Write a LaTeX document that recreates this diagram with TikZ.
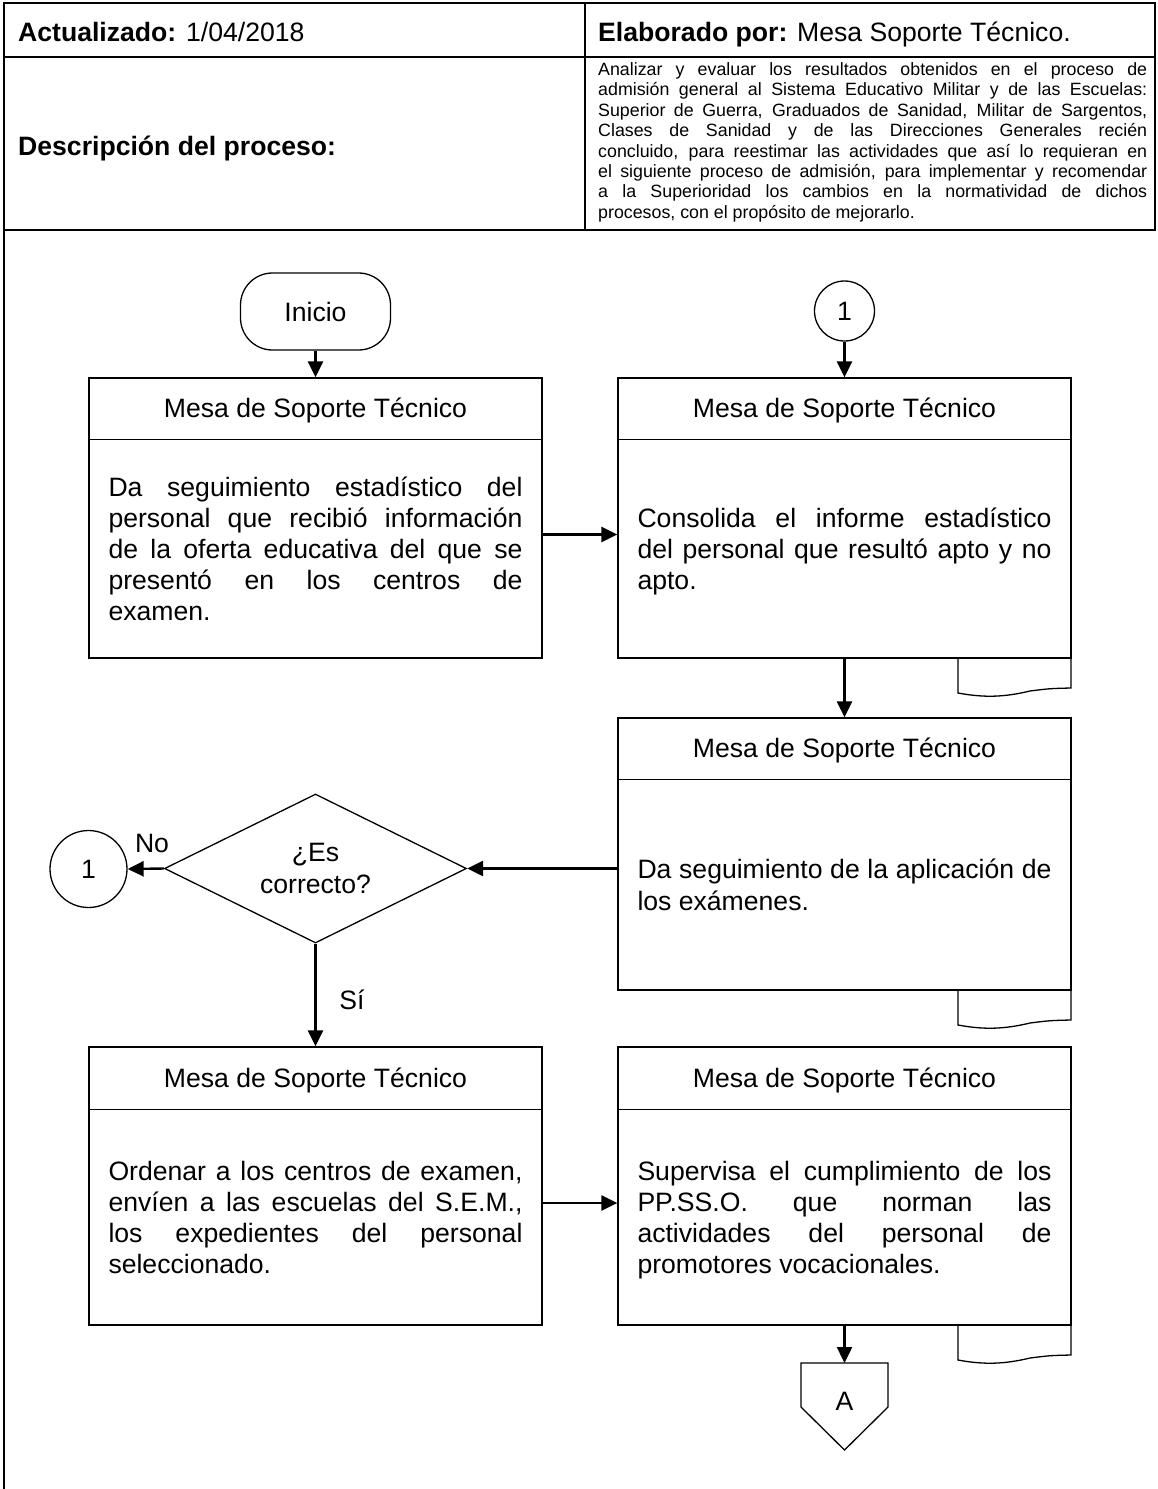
\documentclass[tikz,border=0pt]{standalone}
\usepackage{fontspec}
\setmainfont{Liberation Sans}
\usetikzlibrary{shapes.geometric,arrows.meta,calc}
\newcommand\bodyfs{\fontsize{26.6}{31.2}\selectfont}
\newcommand\descfs{\fontsize{17.8}{20.4}\selectfont}
\newcommand\jline[2][414pt]{\makebox[#1][s]{#2}}
\begin{document}
\begin{tikzpicture}[x=1pt,y=-1pt,
  every node/.style={inner sep=0pt, font=\bodyfs},
  tableline/.style={line width=1.8pt},
  shapeline/.style={line width=1.3pt},
  procbox/.style={draw, line width=1.3pt, minimum width=453pt, minimum height=#1},
  arr/.style={line width=2.4pt, -{Triangle[length=16pt,width=15pt]}},
  bodytext/.style={anchor=center, align=left},
  title/.style={anchor=base}]
\useasboundingbox (0,0) rectangle (1157,1489);
% header table
\draw[tableline] (4,1489) -- (4,3) -- (1155,3) -- (1155,230) -- (4,230);
\draw[tableline] (4,57) -- (1155,57);
\draw[tableline] (585,3) -- (585,230);
\node[anchor=base west] (upd) at (18,41.3) {\textbf{Actualizado:} 1/04/2018};
\node[anchor=base west] (elab) at (598,41.3) {\textbf{Elaborado por:} Mesa Soporte Técnico.};
\node[anchor=base west] (dlab) at (18,155.3) {\textbf{Descripción del proceso:}};
\node[anchor=north west, align=left, font=\descfs] (desc) at (598,61.1) {\strut\jline[549pt]{Analizar y evaluar los resultados obtenidos en el proceso de}\\
\jline[549pt]{admisión general al Sistema Educativo Militar y de las Escuelas:}\\
\jline[549pt]{Superior de Guerra, Graduados de Sanidad, Militar de Sargentos,}\\
\jline[549pt]{Clases de Sanidad y de las Direcciones Generales recién}\\
\jline[549pt]{concluido, para reestimar las actividades que así lo requieran en}\\
\jline[549pt]{el siguiente proceso de admisión, para implementar y recomendar}\\
\jline[549pt]{a la Superioridad los cambios en la normatividad de dichos}\\
procesos, con el propósito de mejorarlo.};
% flow shapes
\node[draw, shapeline, rounded corners=32pt, minimum width=150pt, minimum height=77pt] (ini) at (315.5,311.5) {Inicio};
\node[draw, shapeline, circle, minimum size=60pt] (c1) at (844.5,311) {1};
\node[procbox=280pt] (b1) at (315.5,518) {};
\node[procbox=280pt] (b2) at (844.5,518) {};
\node[procbox=272pt] (b3) at (844.5,854) {};
\node[draw, shapeline, diamond, aspect=2.03, minimum width=302pt, minimum height=149pt, align=center] (d) at (315.5,868.5) {¿Es\\correcto?};
\node[draw, shapeline, circle, minimum size=77pt] (c2) at (88.5,869) {1};
\node[procbox=278pt] (b4) at (315.5,1186) {};
\node[procbox=278pt] (b5) at (844.5,1186) {};
% header lines in boxes
\foreach \b in {b1,b2,b3} \draw[shapeline] ($(\b.north west)+(0,62)$) -- ($(\b.north east)+(0,62)$);
\foreach \b in {b4,b5} \draw[shapeline] ($(\b.north west)+(0,63)$) -- ($(\b.north east)+(0,63)$);
% titles
\node[title] (b1t) at ($(b1.north)+(0,40.6)$) {Mesa de Soporte Técnico};
\node[title] (b2t) at ($(b2.north)+(0,40.6)$) {Mesa de Soporte Técnico};
\node[title] (b3t) at ($(b3.north)+(0,40.6)$) {Mesa de Soporte Técnico};
\node[title] (b4t) at ($(b4.north)+(0,41)$) {Mesa de Soporte Técnico};
\node[title] (b5t) at ($(b5.north)+(0,41)$) {Mesa de Soporte Técnico};
% body texts (vertically centred in the body area)
\node[bodytext] (b1x) at ($(b1.center)+(0,34.3)$) {\strut\jline{Da seguimiento estadístico del}\\
\jline{personal que recibió información}\\
\jline{de la oferta educativa del que se}\\
\jline{presentó en los centros de}\\
examen.\strut};
\node[bodytext] (b2x) at ($(b2.center)+(0,34.3)$) {\strut\jline{Consolida el informe estadístico}\\
\jline{del personal que resultó apto y no}\\
apto.\strut};
\node[bodytext] (b3x) at ($(b3.center)+(0,34.3)$) {\strut\jline{Da seguimiento de la aplicación de}\\
los exámenes.\strut};
\node[bodytext] (b4x) at ($(b4.center)+(0,34.8)$) {\strut\jline{Ordenar a los centros de examen,}\\
\jline{envíen a las escuelas del S.E.M.,}\\
\jline{los expedientes del personal}\\
seleccionado.\strut};
\node[bodytext] (b5x) at ($(b5.center)+(0,34.8)$) {\strut\jline{Supervisa el cumplimiento de los}\\
\jline{PP.SS.O. que norman las}\\
\jline{actividades del personal de}\\
promotores vocacionales.\strut};
% document tabs
\foreach \B in {658,990,1325}
  \draw[shapeline] (958,\B) -- (958,\B+35) .. controls (985,\B+40) and (1005,\B+39) .. (1030,\B+33) .. controls (1050,\B+30.5) .. (1071,\B+30) -- (1071,\B);
% off-page connector
\coordinate (Atop) at (844.5,1363);
\draw[shapeline] (801,1363) -- (888,1363) -- (888,1407) -- (844.5,1450) -- (801,1407) -- cycle;
\node (A) at (844.5,1401) {A};
% labels
\node[anchor=base] (no) at (152,852.5) {No};
\node[anchor=base] (si) at (352,1009.5) {Sí};
% connectors
\draw[arr] (ini) -- (b1);
\draw[arr] (c1) -- (b2);
\draw[arr] ($(b1.east)+(0,16.5)$) -- ($(b2.west)+(0,16.5)$);
\draw[arr] (b2) -- (b3);
\draw[arr] (b3.west |- d.east) -- (d.east);
\draw[arr] (d.west) -- (c2.east);
\draw[arr] (d.south) -- (b4.north);
\draw[arr] ($(b4.east)+(0,17)$) -- ($(b5.west)+(0,17)$);
\draw[arr] (b5.south) -- (Atop);
\end{tikzpicture}
\end{document}
